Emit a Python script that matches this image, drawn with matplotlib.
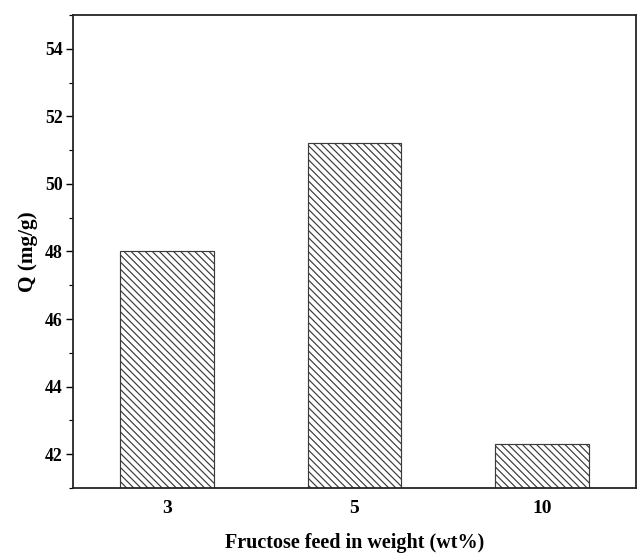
import matplotlib
matplotlib.use("Agg")
import matplotlib.pyplot as plt
from matplotlib.ticker import MultipleLocator

categories = ["3", "5", "10"]
q_values = [48.0, 51.2, 42.3]
y_ticks = [42, 44, 46, 48, 50, 52, 54]

DPI = 85
plt.rcParams["font.family"] = ["Liberation Serif", "DejaVu Serif"]
plt.rcParams["font.weight"] = "bold"
plt.rcParams["hatch.linewidth"] = 1.0
plt.rcParams["hatch.color"] = "#3a3a3a"

fig = plt.figure(figsize=(637 / DPI, 556 / DPI), dpi=DPI)
ax = fig.add_axes([73 / 637, 1 - 488 / 556, 563 / 637, (488 - 15) / 556])

x = list(range(len(categories)))
ax.bar(x, q_values, width=0.5, bottom=0, color="white", edgecolor="#3a3a3a",
       linewidth=1.0, hatch="\\\\\\\\")

ax.set_xlim(-0.5, 2.5)
ax.set_ylim(41, 55)
ax.set_xticks(x)
ax.set_xticklabels(categories)
ax.set_yticks(y_ticks)
ax.yaxis.set_minor_locator(MultipleLocator(1))

ax.tick_params(axis="x", length=0, pad=10, labelsize=16.5)
ax.tick_params(axis="y", which="major", direction="out", length=6, width=1.2,
               pad=2.5, labelsize=15)
ax.tick_params(axis="y", which="minor", direction="out", length=3.5, width=1.0)

for spine in ax.spines.values():
    spine.set_linewidth(1.5)
    spine.set_color("#222222")

ax.set_xlabel("Fructose feed in weight (wt%)", fontsize=17, fontweight="bold",
              labelpad=14)
ax.set_ylabel("Q (mg/g)", fontsize=18, fontweight="bold", labelpad=6)

fig.savefig("out.png", dpi=DPI)
